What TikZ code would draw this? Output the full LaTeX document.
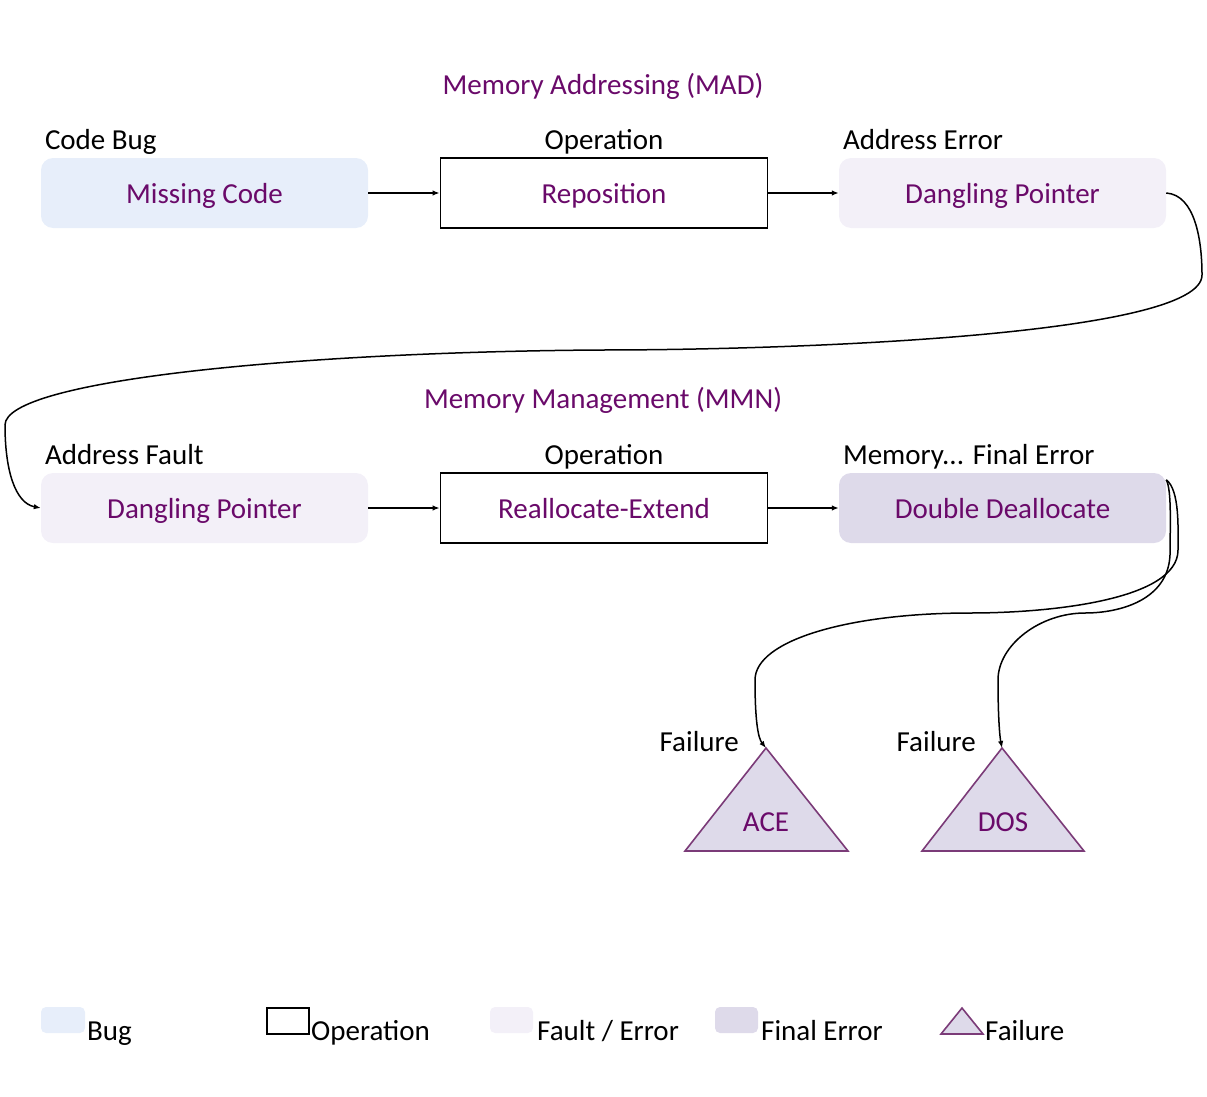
\documentclass[tikz,border=0pt]{standalone}
\usepackage{fontspec}
\setmainfont{Carlito}
\usepackage{tikz}
\usetikzlibrary{calc}
\usetikzlibrary{arrows.meta}
\definecolor{txtpurple}{HTML}{6A0A6A}
\definecolor{bugfill}{HTML}{E7EEFA}
\definecolor{faultfill}{HTML}{F3F0F8}
\definecolor{finalfill}{HTML}{DEDAEA}
\definecolor{triline}{HTML}{7B3B78}
\tikzset{
  box/.style={minimum width=327pt, minimum height=70pt, inner sep=0pt, text height=22pt, text depth=2pt, text=txtpurple},
  bugbox/.style={box, fill=bugfill, rounded corners=12pt},
  opbox/.style={box, draw=black, line width=1.8pt, fill=white},
  faultbox/.style={box, fill=faultfill, rounded corners=12pt},
  finalbox/.style={box, fill=finalfill, rounded corners=12pt},
  lbl/.style={inner sep=0pt, text=black},
  ttl/.style={inner sep=0pt, text=txtpurple},
  failtri/.style={draw=triline, fill=finalfill, line width=1.6pt, line join=miter},
  flow/.style={-{Latex[length=7pt,width=5.5pt]}, line width=1.5pt},
}
\begin{document}
\begin{tikzpicture}[x=1pt, y=-1pt, font=\fontsize{29}{34}\selectfont]
  \useasboundingbox (0,0) rectangle (1207,1097);

  % first chain
  \node[ttl] (madtitle) at (603,86) {Memory Addressing (MAD)};
  \node[bugbox] (mad1) at (204.5,193) {Missing Code};
  \node[opbox] (mad2) at (604,193) {Reposition};
  \node[faultbox] (mad3) at (1002.5,193) {Dangling Pointer};
  \node[lbl, anchor=base west] (mad1lbl) at ($(mad1.north west)+(4,-8)$) {Code Bug};
  \node[lbl, anchor=base] (mad2lbl) at ($(mad2.north)+(0,-8)$) {Operation};
  \node[lbl, anchor=base west] (mad3lbl) at ($(mad3.north west)+(4,-8)$) {Address Error};
  \draw[flow] (mad1) -- (mad2);
  \draw[flow] (mad2) -- (mad3);

  % second chain
  \node[ttl] (mmntitle) at (603,400) {Memory Management (MMN)};
  \node[faultbox] (mmn1) at (204.5,508) {Dangling Pointer};
  \node[opbox] (mmn2) at (604,508) {Reallocate-Extend};
  \node[finalbox] (mmn3) at (1002.5,508) {Double Deallocate};
  \node[lbl, anchor=base west] (mmn1lbl) at ($(mmn1.north west)+(4,-8)$) {Address Fault};
  \node[lbl, anchor=base] (mmn2lbl) at ($(mmn2.north)+(0,-8)$) {Operation};
  \node[lbl, anchor=base west] (mmn3lbl) at ($(mmn3.north west)+(4,-8)$) {Memory... Final Error};
  \draw[flow] (mmn1) -- (mmn2);
  \draw[flow] (mmn2) -- (mmn3);

  % link between the chains
  \draw[flow] (mad3.east) .. controls (1195,195) and (1202,240) .. (1202,275)
    .. controls (1202,335) and (800,350) .. (600,350)
    .. controls (300,352) and (5,380) .. (5,425)
    .. controls (5,470) and (15,503) .. (mmn1.west);

  % failures
  \draw[failtri] (685,851) -- (766,748) coordinate (acetop) -- (848,851) -- cycle;
  \node[ttl] (ace) at (766,822) {ACE};
  \node[lbl, anchor=base east] (acelbl) at (739,751) {Failure};
  \draw[failtri] (922,851) -- (1002,748) coordinate (dostop) -- (1084,851) -- cycle;
  \node[ttl] (dos) at (1003,822) {DOS};
  \node[lbl, anchor=base east] (doslbl) at (976,751) {Failure};

  \draw[flow] ([yshift=-7pt]mmn3.north east) .. controls (1180,490) and (1178,530) .. (1178,550)
    .. controls (1178,600) and (1050,613) .. (970,613)
    .. controls (850,613) and (755,640) .. (755,680)
    .. controls (755,720) and (758,738) .. (acetop);
  \draw[flow] ([yshift=-7pt]mmn3.north east) .. controls (1172,490) and (1170,530) .. (1170,555)
    .. controls (1168,600) and (1120,613) .. (1085,613)
    .. controls (1040,613) and (998,645) .. (998,680)
    .. controls (998,720) and (1000,738) .. (dostop);

  % legend
  \fill[bugfill, rounded corners=5pt] (41,1007) rectangle (85,1033);
  \node[lbl, anchor=base west] (legbug) at (87,1040) {Bug};
  \draw[black, line width=1.8pt] (267,1008) rectangle (309,1034);
  \node[lbl, anchor=base west] (legop) at (311,1040) {Operation};
  \fill[faultfill, rounded corners=5pt] (490,1007) rectangle (533,1033);
  \node[lbl, anchor=base west] (legfault) at (537,1040) {Fault / Error};
  \fill[finalfill, rounded corners=5pt] (715,1007) rectangle (758,1033);
  \node[lbl, anchor=base west] (legfinal) at (761,1040) {Final Error};
  \draw[failtri] (941,1034) -- (962,1008) -- (983,1034) -- cycle;
  \node[lbl, anchor=base west] (legfail) at (985,1040) {Failure};
\end{tikzpicture}
\end{document}
